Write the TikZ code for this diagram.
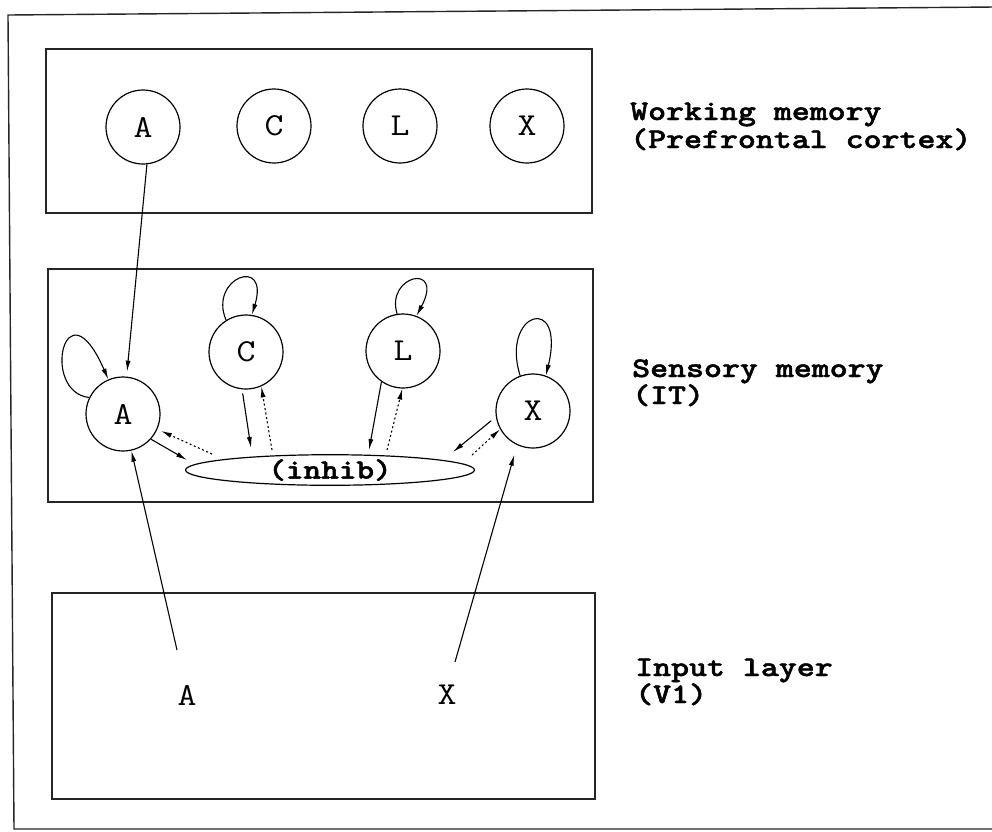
\documentclass[tikz,border=0pt]{standalone}
\usepackage{fontspec}
\usepackage{graphicx}
\newfontfamily\bmono[FakeBold=1.5]{lmmonolt10-bold.otf}
\usetikzlibrary{arrows.meta,shapes.geometric}
\newcommand{\wide}[1]{\scalebox{1.15}[1]{#1}}
\newcommand{\wider}[1]{\scalebox{1.2}[1]{#1}}
\begin{document}
\begin{tikzpicture}[x=1pt,y=-1pt,
  frame/.style={draw=black!85, line width=1.4pt},
  unit/.style={circle, draw, line width=1.2pt, minimum size=74pt, inner sep=0pt, font=\ttfamily\fontsize{32}{32}\selectfont},
  letter/.style={inner sep=0pt, font=\ttfamily\fontsize{32}{32}\selectfont},
  arr/.style={line width=1.1pt, -{Latex[length=11pt,width=5pt]}},
  dots/.style={arr, dash pattern=on 2pt off 2.5pt},
  lbl/.style={anchor=base west, inner sep=0pt, text height=17pt, text depth=3pt, font=\bmono\fontsize{28.5}{28.5}\selectfont}]
\useasboundingbox (0,0) rectangle (992,831);
\fill[white] (0,0) rectangle (992,831);
\draw[frame] (995,7) -- (8,15) -- (14,829) -- (995,829);
% layer boxes
\draw[frame] (46,49) rectangle (592,213);
\draw[frame] (48,269) rectangle (593,502);
\draw[frame] (52,593) rectangle (595,799);
% working memory
\node[unit] (tA) at (143,127) {\wide{A}};
\node[unit] (tC) at (274,126) {\wide{C}};
\node[unit] (tL) at (400,126) {\wide{L}};
\node[unit] (tX) at (527,126) {\wide{X}};
% sensory memory
\node[unit] (mA) at (123,414) {\wide{A}};
\node[unit] (mC) at (246,352) {\wide{C}};
\node[unit] (mL) at (403,351) {\wide{L}};
\node[unit] (mX) at (533,411) {\wide{X}};
\node[ellipse, draw, line width=1.2pt, minimum width=289pt, minimum height=30pt, inner sep=0pt,
      font=\bmono\fontsize{28}{28}\selectfont] (inh) at (330,470) {\wider{(inhib)}};
% input layer
\node[letter] (bA) at (187,695) {\wide{A}};
\node[letter] (bX) at (447,695) {\wide{X}};
% labels
\node[lbl] (l1a) at (630,120) {\wider{Working memory}};
\node[lbl] (l1b) at (630,148) {\wider{(Prefrontal cortex)}};
\node[lbl] (l2a) at (632,377) {\wider{Sensory memory}};
\node[lbl] (l2b) at (632,404) {\wider{(IT)}};
\node[lbl] (l3a) at (635,676) {\wider{Input layer}};
\node[lbl] (l3b) at (635,703) {\wider{(V1)}};
% free ends
\coordinate (bAs) at (177,650);
\coordinate (bXs) at (455,662);
\coordinate (iA1) at (187,460);
\coordinate (iA2) at (212,454);
\coordinate (iC1) at (251,448);
\coordinate (iC2) at (272,450);
\coordinate (iL1) at (369,450);
\coordinate (iL2) at (387,450);
\coordinate (iX1) at (453,452);
\coordinate (iX2) at (472,455);
% connectors
\draw[arr, shorten >=5pt] (tA.-84) -- (mA);
\draw[arr] (bAs) -- (mA);
\draw[arr, shorten >=10pt] (bXs) -- (mX.245);
% self loops
\draw[arr] (mA.154) .. controls (40,392) and (65,280) .. (mA.113);
\draw[arr] (mC.122) .. controls (208,278) and (270,255) .. (mC.81);
\draw[arr] (mL.99) .. controls (385,275) and (445,262) .. (mL.69);
\draw[arr] (mX.110) .. controls (500,312) and (566,292) .. (mX.70);
% to and from inhibition
\draw[arr] (mA.-42) -- (iA1);
\draw[dots, shorten >=4pt] (iA2) -- (mA.-24);
\draw[arr, shorten <=4pt] (mC.-96) -- (iC1);
\draw[dots] (iC2) -- (mC.-66);
\draw[arr] (mL.-125) -- (iL1);
\draw[dots] (iL2) -- (mL.-91);
\draw[arr, shorten <=6pt] (mX.-171) -- (iX1);
\draw[dots] (iX2) -- (mX.-151);
\end{tikzpicture}
\end{document}
